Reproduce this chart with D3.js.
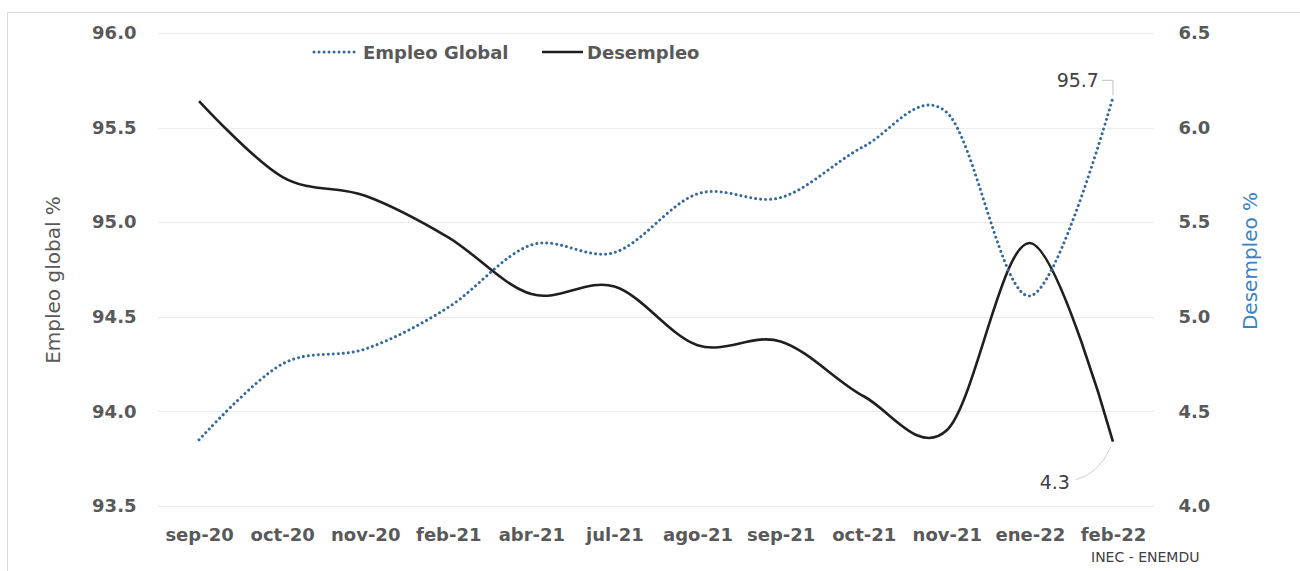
<!DOCTYPE html>
<html lang="es">
<head>
<meta charset="utf-8">
<title>Empleo global y desempleo</title>
<script src="https://cdn.jsdelivr.net/npm/d3@7"></script>
<style>
  html, body { margin: 0; padding: 0; background: #ffffff; }
  svg { display: block; }
  text { font-family: "DejaVu Sans", sans-serif; }
</style>
</head>
<body>
<svg id="chart" width="1300" height="571"></svg>
<script>
// Periodos de la encuesta
const categories = ["sep-20", "oct-20", "nov-20", "feb-21", "abr-21", "jul-21",
                    "ago-21", "sep-21", "oct-21", "nov-21", "ene-22", "feb-22"];

// Empleo global (%), eje izquierdo
const empleoGlobal = [93.85, 94.25, 94.33, 94.55, 94.88, 94.84,
                      95.15, 95.13, 95.40, 95.58, 94.61, 95.66];

// Desempleo (%), eje derecho
const desempleo = [6.14, 5.74, 5.64, 5.42, 5.12, 5.16,
                   4.85, 4.87, 4.58, 4.40, 5.39, 4.34];

// Marcas de los ejes
const leftTicks = [93.5, 94.0, 94.5, 95.0, 95.5, 96.0];
const rightTicks = [4.0, 4.5, 5.0, 5.5, 6.0, 6.5];

const svg = d3.select("#chart");
const fmt = d3.format(".1f");

const plot = { left: 157.5, right: 1154.5, top: 33, bottom: 506 };

const x = d3.scalePoint().domain(categories).range([plot.left, plot.right]).padding(0.5);
const yL = d3.scaleLinear().domain([93.5, 96]).range([plot.bottom, plot.top]);
const yR = d3.scaleLinear().domain([4.0, 6.5]).range([plot.bottom, plot.top]);

// Marco del gráfico
svg.append("rect")
  .attr("x", 7.5).attr("y", 12.5)
  .attr("width", 1310).attr("height", 600)
  .attr("fill", "none").attr("stroke", "#d9d9d9").attr("stroke-width", 1);

// Líneas de cuadrícula
svg.append("g")
  .selectAll("line")
  .data(leftTicks)
  .join("line")
  .attr("x1", plot.left).attr("x2", plot.right)
  .attr("y1", d => Math.round(yL(d)) + 0.5).attr("y2", d => Math.round(yL(d)) + 0.5)
  .attr("stroke", "#ececec").attr("stroke-width", 1);

// Ejes
function styleAxis(g) {
  g.select(".domain").remove();
  g.selectAll("line").remove();
  g.selectAll("text")
    .attr("font-family", "DejaVu Sans, sans-serif")
    .attr("font-size", 18)
    .attr("font-weight", "bold")
    .attr("fill", "#595959");
}

svg.append("g")
  .attr("transform", `translate(${plot.left},0)`)
  .call(d3.axisLeft(yL).tickValues(leftTicks).tickFormat(fmt).tickSize(0).tickPadding(21))
  .call(styleAxis);

svg.append("g")
  .attr("transform", `translate(${plot.right},0)`)
  .call(d3.axisRight(yR).tickValues(rightTicks).tickFormat(fmt).tickSize(0).tickPadding(24))
  .call(styleAxis);

svg.append("g")
  .attr("transform", `translate(0,${plot.bottom})`)
  .call(d3.axisBottom(x).tickSize(0).tickPadding(22))
  .call(styleAxis);

// Títulos de los ejes
svg.append("text")
  .attr("transform", "translate(60,280) rotate(-90)")
  .attr("text-anchor", "middle")
  .attr("font-size", 20)
  .attr("fill", "#595959")
  .text("Empleo global %");

svg.append("text")
  .attr("transform", "translate(1257,261) rotate(-90)")
  .attr("text-anchor", "middle")
  .attr("font-size", 20)
  .attr("fill", "#3b82c4")
  .text("Desempleo %");

// Series
const curve = d3.curveCardinal.tension(0);

const lineEmpleo = d3.line()
  .x((d, i) => x(categories[i]))
  .y(d => yL(d))
  .curve(curve);

const lineDesempleo = d3.line()
  .x((d, i) => x(categories[i]))
  .y(d => yR(d))
  .curve(curve);

svg.append("path")
  .datum(desempleo)
  .attr("d", lineDesempleo)
  .attr("fill", "none")
  .attr("stroke", "#1f1f1f")
  .attr("stroke-width", 2.6)
  .attr("stroke-linejoin", "round");

svg.append("path")
  .datum(empleoGlobal)
  .attr("d", lineEmpleo)
  .attr("fill", "none")
  .attr("stroke", "#33699f")
  .attr("stroke-width", 3)
  .attr("stroke-linecap", "round")
  .attr("stroke-dasharray", "0.01 5");

// Etiquetas de datos del último periodo
const last = categories.length - 1;
const lastX = x(categories[last]);

const eY = yL(empleoGlobal[last]);
svg.append("path")
  .attr("d", `M${lastX - 11},${eY - 17} H${lastX} V${eY - 2}`)
  .attr("fill", "none").attr("stroke", "#bfbfbf").attr("stroke-width", 1);
svg.append("text")
  .attr("x", lastX - 14).attr("y", eY - 10)
  .attr("text-anchor", "end")
  .attr("font-size", 19)
  .attr("fill", "#404040")
  .text(fmt(empleoGlobal[last]));

const dY = yR(desempleo[last]);
svg.append("path")
  .attr("d", `M${lastX - 2},${dY + 5} Q${lastX - 14},${dY + 32} ${lastX - 37},${dY + 38}`)
  .attr("fill", "none").attr("stroke", "#d0d0d0").attr("stroke-width", 1);
svg.append("text")
  .attr("x", lastX - 43).attr("y", dY + 47)
  .attr("text-anchor", "end")
  .attr("font-size", 19)
  .attr("fill", "#404040")
  .text(fmt(desempleo[last]));

// Leyenda
const legend = svg.append("g");
legend.append("line")
  .attr("x1", 314).attr("x2", 357).attr("y1", 52).attr("y2", 52)
  .attr("stroke", "#33699f").attr("stroke-width", 3)
  .attr("stroke-linecap", "round").attr("stroke-dasharray", "0.01 5");
legend.append("text")
  .attr("x", 363).attr("y", 58.5)
  .attr("font-size", 18).attr("font-weight", "bold").attr("fill", "#595959")
  .text("Empleo Global");
legend.append("line")
  .attr("x1", 542).attr("x2", 583).attr("y1", 52).attr("y2", 52)
  .attr("stroke", "#1f1f1f").attr("stroke-width", 2.6);
legend.append("text")
  .attr("x", 587).attr("y", 58.5)
  .attr("font-size", 18).attr("font-weight", "bold").attr("fill", "#595959")
  .text("Desempleo");

// Fuente
svg.append("text")
  .attr("x", 1091).attr("y", 562)
  .attr("font-size", 14).attr("fill", "#404040")
  .text("INEC - ENEMDU");
</script>
</body>
</html>
